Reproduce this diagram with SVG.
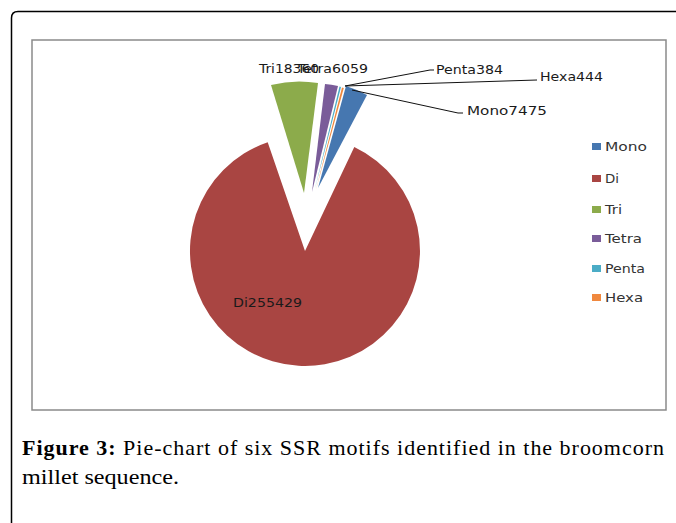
<svg xmlns="http://www.w3.org/2000/svg" width="676" height="523" viewBox="0 0 676 523">
<style>
.lbl{font-family:"DejaVu Sans","Liberation Sans",sans-serif;font-size:12px;fill:#1a1a1a}
.leg{font-family:"DejaVu Sans","Liberation Sans",sans-serif;font-size:12px;fill:#333}
.lead{stroke:#111;stroke-width:1;fill:none}
.cap{font-family:"Liberation Serif","Times New Roman",serif;font-size:22px;fill:#000}
</style>
<rect width="676" height="523" fill="#fff"/>
<path id="frame" d="M11.5,523 V18 Q11.5,11.5 18,11.5 H676" fill="none" stroke="#000" stroke-width="1.5"/>
<rect id="chartbox" x="32" y="40" width="634" height="370" fill="#fff" stroke="#8a8a8a" stroke-width="1.5"/>
<g id="slices">
<g id="slice-di"><path d="M305,251 L354.3,147.1 A115,115 0 1 1 267.7,142.2 Z" fill="#a94542"/></g>
<g id="slice-tri"><path d="M304,193 L271,85 A112,112 0 0 1 318,83 Z" fill="#8cab4b"/></g>
<g id="slice-tetra"><path d="M312,192 L325,84 A109,109 0 0 1 338,86 Z" fill="#7a5c99"/></g>
<g id="slice-penta"><path d="M314.5,190.5 L339.5,86.5 A108,108 0 0 1 341,87 Z" fill="#4bacc6"/></g>
<g id="slice-hexa"><path d="M316,189.5 L342,87.5 A107,107 0 0 1 343.8,88 Z" fill="#f0883e"/></g>
<g id="slice-mono"><path d="M318,188 L346,86 A105,105 0 0 1 367,95.1 Z" fill="#4677b0"/></g>
</g>
<g id="connectors">
<polyline class="lead" points="345,86 430,70 434,70"/>
<polyline class="lead" points="345,86 537,80"/>
<polyline class="lead" points="352,90 458,113 463,113"/>
</g>
<g id="labels">
<text class="lbl" x="259" y="73" textLength="60" lengthAdjust="spacingAndGlyphs">Tri18360</text>
<text class="lbl" x="297" y="73" textLength="71" lengthAdjust="spacingAndGlyphs">Tetra6059</text>
<text class="lbl" x="436" y="74" textLength="67" lengthAdjust="spacingAndGlyphs">Penta384</text>
<text class="lbl" x="540" y="81" textLength="63" lengthAdjust="spacingAndGlyphs">Hexa444</text>
<text class="lbl" x="467" y="115" textLength="80" lengthAdjust="spacingAndGlyphs">Mono7475</text>
<text class="lbl" x="233" y="307" textLength="69" lengthAdjust="spacingAndGlyphs">Di255429</text>
</g>
<g id="legend">
<g id="leg-mono"><rect x="592" y="143" width="9" height="7" fill="#4677b0"/><text class="leg" x="605" y="151" textLength="42" lengthAdjust="spacingAndGlyphs">Mono</text></g>
<g id="leg-di"><rect x="592" y="175" width="9" height="7" fill="#a94542"/><text class="leg" x="605" y="183" textLength="14" lengthAdjust="spacingAndGlyphs">Di</text></g>
<g id="leg-tri"><rect x="592" y="206" width="9" height="7" fill="#8cab4b"/><text class="leg" x="605" y="214" textLength="17" lengthAdjust="spacingAndGlyphs">Tri</text></g>
<g id="leg-tetra"><rect x="592" y="235" width="9" height="7" fill="#7a5c99"/><text class="leg" x="605" y="243" textLength="37" lengthAdjust="spacingAndGlyphs">Tetra</text></g>
<g id="leg-penta"><rect x="592" y="265" width="9" height="7" fill="#4bacc6"/><text class="leg" x="605" y="273" textLength="40" lengthAdjust="spacingAndGlyphs">Penta</text></g>
<g id="leg-hexa"><rect x="592" y="294" width="9" height="7" fill="#f0883e"/><text class="leg" x="605" y="302" textLength="38" lengthAdjust="spacingAndGlyphs">Hexa</text></g>
</g>
<g id="caption">
<text class="cap" x="22" y="455" textLength="642" lengthAdjust="spacing"><tspan font-weight="bold">Figure 3:</tspan> Pie-chart of six SSR motifs identified in the broomcorn</text>
<text class="cap" x="22" y="484" textLength="157" lengthAdjust="spacingAndGlyphs">millet sequence.</text>
</g>
</svg>
